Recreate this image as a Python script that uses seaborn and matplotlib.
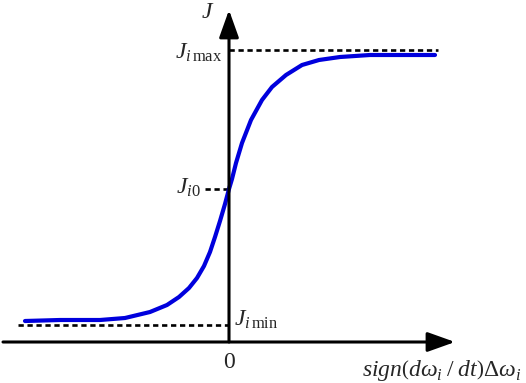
import numpy as np
import pandas as pd
import matplotlib
matplotlib.use("Agg")
import matplotlib.pyplot as plt
import seaborn as sns

# curve points (x relative to the J axis, J above the x axis)
x_vals = [-204, -169, -129, -104, -79, -62, -50, -40, -32, -25, -19, -14, -9, -4, 0,
          3, 7, 13, 22, 33, 43, 57, 73, 90, 111, 141, 171, 206]
J_vals = [21, 22, 22, 24, 30, 37, 45, 54, 64, 76, 90, 105, 121, 138, 153,
          163, 179, 199, 222, 242, 255, 267, 277, 282, 285, 287, 287, 287]

# reference levels
J_max = 292
J_0 = 153
J_min = 17
x_left = -211
x_right = 209

sns.set_style("white")
plt.rcParams["mathtext.fontset"] = "custom"
plt.rcParams["mathtext.rm"] = "Liberation Serif"
plt.rcParams["mathtext.it"] = "Liberation Serif:italic"
plt.rcParams["font.family"] = ["Liberation Serif", "DejaVu Serif"]

fig = plt.figure(figsize=(5.26, 3.83), dpi=100)
ax = fig.add_axes([0, 0, 1, 1])
ax.set_xlim(-229, 297)
ax.set_ylim(-41, 342)
ax.axis("off")

df = pd.DataFrame({"x": x_vals, "J": J_vals})

# dashed level lines
dash = dict(color="black", lw=1.9, ls=(0, (2.0, 1.4)))
ax.plot([0, x_right], [J_max, J_max], **dash)
ax.plot([-24, 0], [J_0, J_0], **dash)
ax.plot([x_left, 0], [J_min, J_min], **dash)

sns.lineplot(data=df, x="x", y="J", ax=ax, color="#0000dd", lw=3, legend=False)

# axes with arrow heads
arrow = dict(arrowstyle="-|>,head_length=1.4,head_width=0.5", color="black",
             lw=2.2, shrinkA=0, shrinkB=0, mutation_scale=12)
ax.annotate("", xy=(226, 0), xytext=(-226, 0), arrowprops=arrow)
ax.annotate("", xy=(0, 332), xytext=(0, 0), arrowprops=arrow)

# labels
ax.text(-21, 330, r"$J$", fontsize=17, ha="center", va="center")
ax.text(-7, 289, r"$J_{i\,\max}$", fontsize=17, ha="right", va="center")
ax.text(-28, 154, r"$J_{i0}$", fontsize=17, ha="right", va="center")
ax.text(5, 22, r"$J_{i\,\min}$", fontsize=17, ha="left", va="center")
ax.text(0, -20, "0", fontsize=17, ha="center", va="center")
ax.text(292, -29, r"$sign\left(d\omega_i\;/\;dt\right)\Delta\omega_i$",
        fontsize=17, ha="right", va="center")

fig.savefig("out.png", dpi=100)
